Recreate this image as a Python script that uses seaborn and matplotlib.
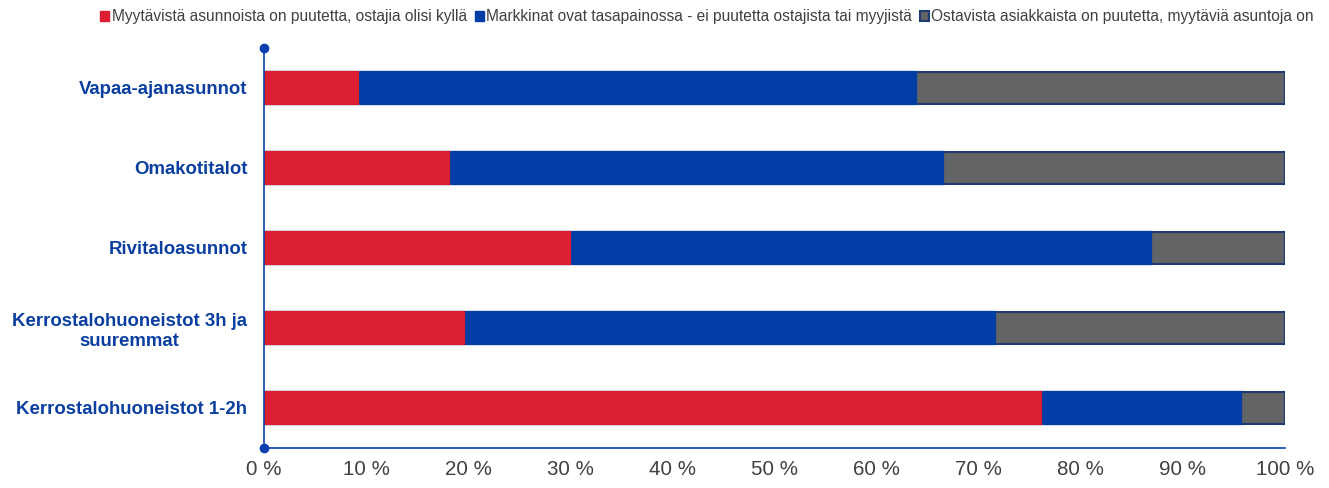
import matplotlib
matplotlib.use("Agg")
import matplotlib.pyplot as plt
from matplotlib.patches import Patch
import seaborn as sns
import pandas as pd

# Survey shares (%) per housing type
categories = ['Vapaa-ajanasunnot', 'Omakotitalot', 'Rivitaloasunnot',
              'Kerrostalohuoneistot 3h ja\nsuuremmat', 'Kerrostalohuoneistot 1-2h']
buyers_lacking = [9.2, 18.1, 30.0, 19.6, 76.1]
balanced = [54.7, 48.4, 56.9, 52.0, 19.6]
sellers_lacking = [36.1, 33.5, 13.1, 28.4, 4.3]

series_names = ['Myytävistä asunnoista on puutetta, ostajia olisi kyllä',
                'Markkinat ovat tasapainossa - ei puutetta ostajista tai myyjistä',
                'Ostavista asiakkaista on puutetta, myytäviä asuntoja on']

red = '#DC1E32'
blue = '#003DA5'
grey = '#636466'
edge_blue = '#1F3B73'

df = pd.DataFrame({'category': categories,
                   'red': buyers_lacking,
                   'blue': balanced,
                   'grey': sellers_lacking})
df['c1'] = df['red']
df['c2'] = df['red'] + df['blue']
df['c3'] = df['c2'] + df['grey']

sns.set_style('white')
plt.rcParams['font.family'] = ['Liberation Sans', 'DejaVu Sans']

fig = plt.figure(figsize=(13.29, 4.88), dpi=100)
ax = fig.add_axes([0.1986, 0.082, 0.7683, 0.8197])

bw = 0.41
# stacked bars: draw cumulative totals back to front
sns.barplot(data=df, y='category', x='c3', color=grey, orient='h', width=bw,
            saturation=1, edgecolor=edge_blue, linewidth=1.5, ax=ax)
sns.barplot(data=df, y='category', x='c2', color=blue, orient='h', width=bw,
            saturation=1, edgecolor=blue, linewidth=1.6, ax=ax)
sns.barplot(data=df, y='category', x='c1', color=red, orient='h', width=bw,
            saturation=1, edgecolor=red, linewidth=1.6, ax=ax)

ax.set_xlim(0, 100)
ax.set_ylim(4.5, -0.5)
ax.set_xticks(range(0, 101, 10))
ax.set_xticklabels([f'{v} %' for v in range(0, 101, 10)], fontsize=14.8, color='#404040')
ax.set_yticklabels(categories, fontsize=13.4, fontweight='bold', color='#0A3FA0',
                   multialignment='center')
ax.set_xlabel('')
ax.set_ylabel('')
ax.tick_params(axis='both', length=0)
ax.tick_params(axis='x', pad=9)
ax.tick_params(axis='y', pad=12)

for side in ['top', 'right']:
    ax.spines[side].set_visible(False)
for side in ['left', 'bottom']:
    ax.spines[side].set_color('#0A3FB0')
    ax.spines[side].set_linewidth(1.2)

# dots at the ends of the value axis line
ax.plot([0, 0], [0, 1], transform=ax.transAxes, linestyle='none', marker='o',
        markersize=6, color='#0A3FB0', clip_on=False, zorder=5)

handles = [Patch(facecolor=red, edgecolor=red),
           Patch(facecolor=blue, edgecolor=blue),
           Patch(facecolor=grey, edgecolor=edge_blue, linewidth=1.5)]
fig.legend(handles, series_names, loc='upper center', bbox_to_anchor=(0.532, 1.01),
           ncol=3, frameon=False, fontsize=11.2, handlelength=0.6, handleheight=0.6,
           handletextpad=0.15, columnspacing=0.5, labelcolor='#404040')

fig.savefig('out.png', dpi=100)
